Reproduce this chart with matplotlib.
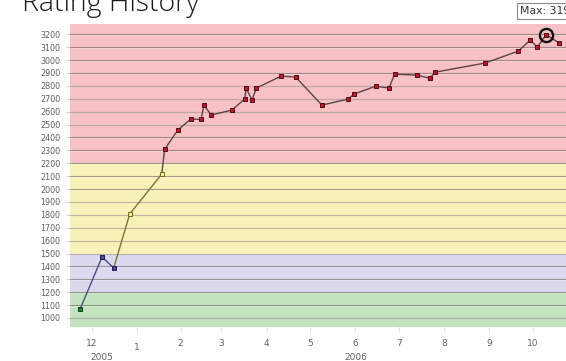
import matplotlib
matplotlib.use("Agg")
import numpy as np
import pandas as pd
import matplotlib.pyplot as plt
import matplotlib.dates as mdates
import matplotlib.transforms as mtransforms
from matplotlib.collections import LineCollection

# rating history (date of match, rating after match)
match_dates = [
    "2005-12-08", "2005-12-23", "2005-12-31", "2006-01-11", "2006-02-02",
    "2006-02-04", "2006-02-13", "2006-02-22", "2006-03-01", "2006-03-03",
    "2006-03-08", "2006-03-22", "2006-03-31", "2006-04-01", "2006-04-05",
    "2006-04-08", "2006-04-25", "2006-05-05", "2006-05-23", "2006-06-10",
    "2006-06-14", "2006-06-29", "2006-07-08", "2006-07-12", "2006-07-27",
    "2006-08-05", "2006-08-09", "2006-09-12", "2006-10-05", "2006-10-13",
    "2006-10-18", "2006-10-24", "2006-11-02",
]
ratings = [
    1070, 1473, 1388, 1806, 2116,
    2308, 2457, 2543, 2540, 2651,
    2574, 2612, 2698, 2783, 2690,
    2783, 2876, 2868, 2651, 2698,
    2736, 2798, 2783, 2891, 2884,
    2860, 2907, 2977, 3070, 3155,
    3101, 3198, 3132,
]

# rating bands: lower bound, upper bound, background, marker fill, marker edge, line
band_lo = [900, 1200, 1500, 2200]
band_hi = [1200, 1500, 2200, 3400]
band_bg = ["#c3e4bf", "#dcd8ee", "#f7f2b7", "#f7c1c5"]
band_fill = ["#1e7a3c", "#46489a", "#f3ef9c", "#c8102c"]
band_edge = ["#0f3d1e", "#1c1d55", "#6e6a1e", "#4d0c12"]
band_line = ["#3a6a4a", "#4a4e82", "#7a7632", "#5a4646"]

month_labels = ["12", "1", "2", "3", "4", "5", "6", "7", "8", "9", "10"]
month_pos = pd.to_datetime([
    "2005-12-16", "2006-01-16", "2006-02-15", "2006-03-15", "2006-04-15",
    "2006-05-15", "2006-06-15", "2006-07-15", "2006-08-15", "2006-09-15",
    "2006-10-15",
])
year_labels = ["2005", "2006"]
year_pos = pd.to_datetime(["2005-12-23", "2006-06-15"])


def band_of(r):
    for i in range(len(band_lo)):
        if band_lo[i] <= r < band_hi[i]:
            return i
    return len(band_lo) - 1


x = mdates.date2num(pd.to_datetime(match_dates))
y = np.array(ratings, dtype=float)
bands = [band_of(r) for r in ratings]

fig = plt.figure(figsize=(5.66, 3.61), dpi=100)
ax = fig.add_axes([70 / 566, 34 / 361, 530 / 566, 303 / 361])
ax.set_xlim(mdates.date2num(pd.Timestamp("2005-12-01")),
            mdates.date2num(pd.Timestamp("2006-11-30")))
ax.set_ylim(930, 3280)

# coloured background bands
for lo, hi, c in zip(band_lo, band_hi, band_bg):
    ax.axhspan(lo, hi, color=c, lw=0, zorder=0)

# horizontal grid
for v in range(1000, 3201, 100):
    ax.axhline(v, color="#6e6060", lw=0.8, alpha=0.6, zorder=1)
    ax.axhline(v - 4, color="white", lw=0.6, alpha=0.35, zorder=1)

# line segments take the colour of the band they end in
segs = [[(x[i], y[i]), (x[i + 1], y[i + 1])] for i in range(len(x) - 1)]
seg_cols = [band_line[bands[i + 1]] for i in range(len(x) - 1)]
ax.add_collection(LineCollection(segs, colors=seg_cols, linewidths=1.0, zorder=2))

for xi, yi, b in zip(x, y, bands):
    ax.plot(xi, yi, marker="s", ms=3.2, mfc=band_fill[b], mec=band_edge[b],
            mew=0.7, zorder=3)

# highlight the peak rating
imax = int(np.argmax(y))
ax.plot(x[imax], y[imax], marker="o", ms=9.5, mfc="none", mec="#111111",
        mew=1.7, zorder=4)
fig.text(520 / 566, 1 - 11 / 361, f"Max: {ratings[imax]}", fontsize=7.8,
         color="#333333", va="center", ha="left",
         bbox=dict(boxstyle="square,pad=0.3", fc="white", ec="#8a8a8a", lw=0.8))

# y axis
ax.set_yticks(range(1000, 3201, 100))
ax.tick_params(axis="y", length=3, width=0.6, color="#c8c8c8", pad=4,
               labelsize=5.8, labelcolor="#606060")

# x axis: month numbers placed at mid-month, year underneath
ax.set_xticks(mdates.date2num(month_pos))
ax.set_xticklabels([])
ax.tick_params(axis="x", length=3, width=0.6, color="#d8d8d8", direction="out")
base = mtransforms.blended_transform_factory(ax.transData, ax.transAxes)
for lab, pos in zip(month_labels, month_pos):
    dy = -21 if lab == "1" else -16
    tr = mtransforms.offset_copy(base, fig=fig, y=dy, units="dots")
    ax.text(mdates.date2num(pos), 0, lab, transform=tr, ha="center",
            va="center", fontsize=6.5, color="#606060")
for lab, pos in zip(year_labels, year_pos):
    tr = mtransforms.offset_copy(base, fig=fig, y=-30, units="dots")
    ax.text(mdates.date2num(pos), 0, lab, transform=tr, ha="center",
            va="center", fontsize=6.5, color="#606060")

for s in ax.spines.values():
    s.set_visible(False)

fig.text(22 / 566, 1 - 10.5 / 361, "Rating History", fontsize=20.5,
         family="Open Sans", weight="light", color="#1a1a1a", va="baseline")

fig.savefig("out.png", dpi=100)
